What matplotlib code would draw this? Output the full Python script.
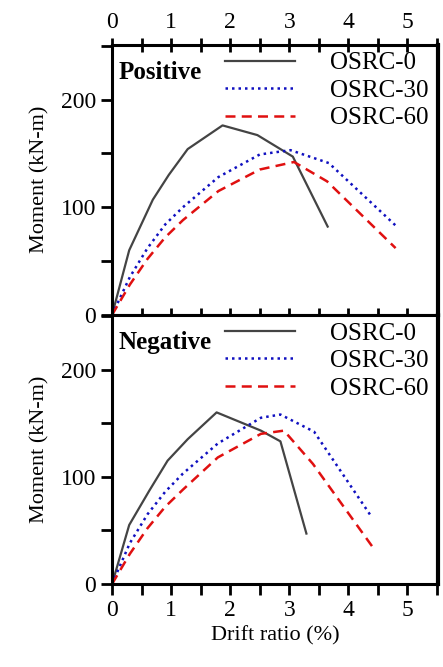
import matplotlib
matplotlib.use("Agg")
import matplotlib.pyplot as plt
from matplotlib.ticker import MultipleLocator

plt.rcParams['font.family'] = ['Liberation Serif', 'DejaVu Serif']

labels = ["OSRC-0", "OSRC-30", "OSRC-60"]
# Positive
p0_x = [0, 0.29, 0.69, 0.96, 1.28, 1.87, 2.46, 3.06, 3.65]
p0_y = [0, 60, 107, 130, 154, 176, 167, 147, 82]
p30_x = [0, 0.3, 0.6, 0.9, 1.2, 1.8, 2.5, 3.02, 3.67, 4.8]
p30_y = [0, 35, 62, 84, 100, 128, 149, 153, 141, 83]
p60_x = [0, 0.3, 0.6, 0.9, 1.2, 1.8, 2.5, 3.08, 3.64, 4.8]
p60_y = [0, 28, 52, 72, 88, 115, 135, 142, 124, 62]
# Negative
n0_x = [0, 0.29, 0.63, 0.94, 1.28, 1.77, 2.52, 2.85, 3.29]
n0_y = [0, 55, 87, 115, 135, 160, 143, 133, 47]
n30_x = [0, 0.3, 0.6, 0.9, 1.2, 1.79, 2.52, 2.85, 3.42, 4.4]
n30_y = [0, 38, 65, 86, 103, 131, 155, 158, 142, 62]
n60_x = [0, 0.3, 0.6, 0.9, 1.2, 1.79, 2.52, 2.91, 3.4, 4.43]
n60_y = [0, 28, 52, 72, 88, 118, 140, 143, 112, 33]

fig = plt.figure(figsize=(4.43, 6.67), dpi=100)
ax1 = fig.add_axes([0.253, 0.528, 0.736, 0.405])
ax2 = fig.add_axes([0.253, 0.1245, 0.736, 0.4035])

styles = [dict(color='#444444', ls='-', lw=1.6),
          dict(color='#1010c0', ls=(0, (1, 1.6)), lw=1.8),
          dict(color='#e01010', ls=(0, (4, 2.5)), lw=1.8)]

for ax, data, title in [(ax1, [(p0_x, p0_y), (p30_x, p30_y), (p60_x, p60_y)], "Positive"),
                        (ax2, [(n0_x, n0_y), (n30_x, n30_y), (n60_x, n60_y)], "Negative")]:
    for (x, y), st, lab in zip(data, styles, labels):
        ax.plot(x, y, label=lab, **st)
    ax.set_xlim(0, 5.52)
    ax.set_ylim(0, 251)
    ax.xaxis.set_major_locator(MultipleLocator(1))
    ax.xaxis.set_minor_locator(MultipleLocator(0.5))
    ax.yaxis.set_major_locator(MultipleLocator(100))
    ax.yaxis.set_minor_locator(MultipleLocator(50))
    for s in ax.spines.values():
        s.set_linewidth(2.2)
    ax.spines['right'].set_linewidth(3)
    ax.tick_params(axis='y', which='both', direction='out', width=2, labelsize=17, right=False)
    ax.tick_params(axis='y', which='both', length=8)
    ax.set_ylabel("Moment (kN-m)", fontsize=16, labelpad=8)
    ax.text(0.02, 0.94, title, transform=ax.transAxes, fontsize=18, fontweight='bold',
            va='top', ha='left')
    ax.legend(loc='upper right', frameon=False, fontsize=18, handlelength=2.8,
              borderaxespad=0.0, labelspacing=0.2, handletextpad=1.4,
              bbox_to_anchor=(1.0, 1.01))

ax1.tick_params(axis='x', which='both', top=True, bottom=True, labeltop=True,
                labelbottom=False, direction='inout', length=10, width=2, labelsize=17)
ax2.tick_params(axis='x', which='both', top=False, bottom=True, direction='out',
                length=8, width=2, labelsize=17)
ax2.set_xlabel("Drift ratio (%)", fontsize=16)

fig.savefig("out.png", dpi=100)
